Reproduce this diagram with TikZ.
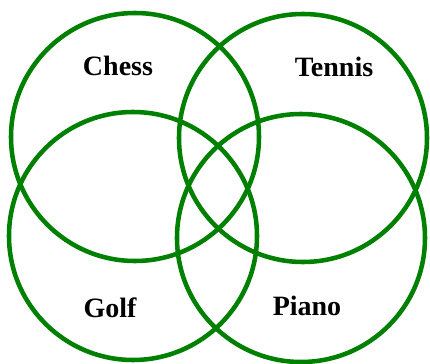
\documentclass[tikz,border=0pt]{standalone}
\usepackage{fontspec}
\setmainfont{Liberation Serif}
\usepackage{tikz}
\usetikzlibrary{positioning}
\definecolor{VennGreen}{RGB}{0,128,0}

\tikzset{
  ring/.style={draw=VennGreen, line width=3.4pt},
  hobby/.style={anchor=base, text=black, font=\fontsize{21}{25}\selectfont\bfseries}
}

\begin{document}
\begin{tikzpicture}[x=0.75pt, y=-0.75pt]
  \useasboundingbox (0,0) rectangle (430,364);
  % the four rings
  \foreach \cx/\cy in {135/137, 303/138, 133/236, 301/238}
    \draw[ring] (\cx,\cy) circle (124);
  % labels
  \foreach \n/\t/\x/\y in {chess/Chess/118/75, tennis/Tennis/334/77,
                           golf/Golf/110/318, piano/Piano/307/316}
    \node[hobby] (\n) at (\x,\y) {\t};
\end{tikzpicture}
\end{document}
